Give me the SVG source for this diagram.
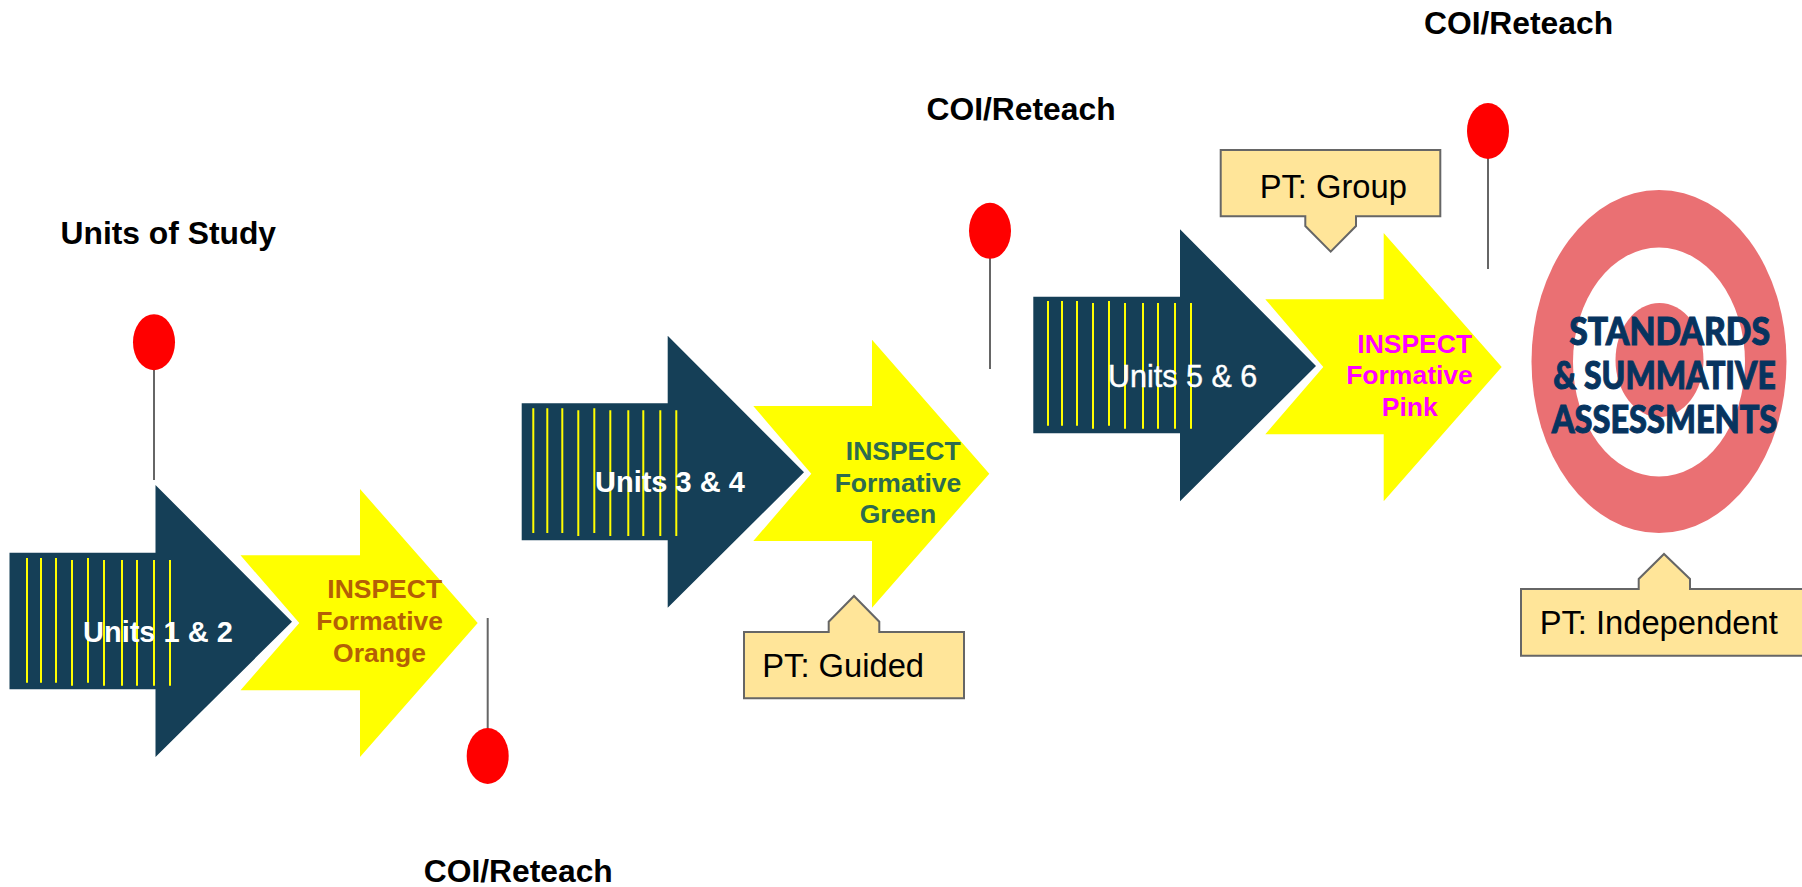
<svg xmlns="http://www.w3.org/2000/svg" width="1802" height="887" viewBox="0 0 1802 887">
<defs>
<style>
text{font-family:"Liberation Sans",Arial,sans-serif}
.blue{fill:#153f57}
.yel{fill:#ffff00}
.stripe{stroke:#ffff00;stroke-width:2;fill:none}
.pinline{stroke:#666666;stroke-width:2;fill:none}
.pin{fill:#ff0000}
.call{fill:#ffe599;stroke:#666666;stroke-width:2}
.lab{font-size:31.8px;font-weight:700;fill:#000}
.unit{font-size:29px;font-weight:700;fill:#fff}
.form{font-size:26.5px;font-weight:700;text-anchor:middle}
.pt{font-size:32.7px;fill:#000}
.std{font-family:Lato,"Open Sans",sans-serif;font-weight:900;font-size:37px;fill:#07345f;stroke:#07345f;stroke-width:1}
</style>
<path id="stripes" class="stripe" d="M27 5.3V130M41 5.3V130M56 5.3V130M72 7.3V133M88 5.3V130M104 7.3V133M122 7.3V133M137 7.3V133M154 7.3V133M170 7.3V133"/>
</defs>
<rect width="1802" height="887" fill="#fff"/>
<g id="connectors">
<path class="pinline" d="M154 342V480M487.7 618V756M990 231V369M1488 131V269"/>
</g>
<g id="target">
<ellipse cx="1659" cy="361.5" rx="127.5" ry="171.5" fill="#ea7073"/>
<ellipse cx="1659" cy="362" rx="86" ry="114.5" fill="#fff"/>
<ellipse cx="1659.5" cy="360" rx="44" ry="57" fill="#ea7073"/>
<text class="std" y="345" x="1569.3" textLength="200.7" lengthAdjust="spacingAndGlyphs">STANDARDS</text>
<text class="std" y="389.3" x="1553.3" textLength="222.4" lengthAdjust="spacingAndGlyphs">&amp; SUMMATIVE</text>
<text class="std" y="433.3" x="1551.7" textLength="225.6" lengthAdjust="spacingAndGlyphs">ASSESSMENTS</text>
</g>
<g id="unit12">
<path class="blue" d="M9.5 552.7H155.5V485L292 621.7L155.5 757V689.3H9.5Z"/>
<use href="#stripes" x="0" y="552.7"/>
<text class="unit" x="83" y="641.7">Units 1 &amp; 2</text>
</g>
<g id="inspect-orange">
<path class="yel" d="M240.5 555.3H360V489L477.7 623L360 757V690.3H240.5L299.3 623Z"/>
<g class="form" fill="#b45f06"><text x="384.7" y="597.7">INSPECT</text><text x="379.7" y="630">Formative</text><text x="379.5" y="661.7">Orange</text></g>
</g>
<g id="unit34">
<path class="blue" d="M521.7 403.3H667.7V335.7L804 472.3L667.7 607.7V540.3H521.7Z"/>
<use href="#stripes" x="506.3" y="403"/>
<text class="unit" x="595" y="491.7">Units 3 &amp; 4</text>
</g>
<g id="inspect-green">
<path class="yel" d="M753.3 406H872V339.7L989.3 473.7L872 607.7V541H753.3L811.3 473.7Z"/>
<g class="form" fill="#2d6b4f"><text x="903.2" y="460">INSPECT</text><text x="898" y="491.7">Formative</text><text x="898" y="523.3">Green</text></g>
</g>
<g id="unit56">
<path class="blue" d="M1033.3 296.7H1180V229.3L1316 366L1180 501.3V433.3H1033.3Z"/>
<use href="#stripes" x="1021" y="295.7"/>
<text class="unit" style="font-weight:400;font-size:30.5px;stroke:#fff;stroke-width:.4" x="1108" y="386.5">Units 5 &amp; 6</text>
</g>
<g id="inspect-pink">
<path class="yel" d="M1265.3 299.3H1383.7V233L1501.7 367L1383.7 501.3V434.3H1265.3L1323.3 367Z"/>
<g class="form" fill="#ff00ff"><text x="1414.7" y="352.7">INSPECT</text><text x="1409.5" y="384.3">Formative</text><text x="1409.7" y="416">Pink</text></g>
</g>
<g id="pin1"><ellipse class="pin" cx="154" cy="342.2" rx="21" ry="28"/></g>
<g id="pin2"><ellipse class="pin" cx="487.7" cy="756" rx="21" ry="28"/></g>
<g id="pin3"><ellipse class="pin" cx="990" cy="230.8" rx="21" ry="28"/></g>
<g id="pin4"><ellipse class="pin" cx="1488" cy="131" rx="21" ry="28"/></g>
<g id="pt-guided">
<path class="call" d="M744 632H828.7V621.7L854 596L879.3 621.7V632H964V698.3H744Z"/>
<text class="pt" x="762.3" y="676.7">PT: Guided</text>
</g>
<g id="pt-group">
<path class="call" d="M1220.7 150H1440.3V216.3H1356V226L1330.7 251.7L1305.3 226V216.3H1220.7Z"/>
<text class="pt" x="1259.7" y="197.7">PT: Group</text>
</g>
<g id="pt-independent">
<path class="call" d="M1521 589H1638.7V579L1664 554L1690 579V589H1810V655.7H1521Z"/>
<text class="pt" x="1539.7" y="633.5">PT: Independent</text>
</g>
<g id="labels">
<text class="lab" x="60.5" y="243.5">Units of Study</text>
<text class="lab" x="423.7" y="882">COI/Reteach</text>
<text class="lab" x="926.5" y="120">COI/Reteach</text>
<text class="lab" x="1424" y="33.5">COI/Reteach</text>
</g>
</svg>
